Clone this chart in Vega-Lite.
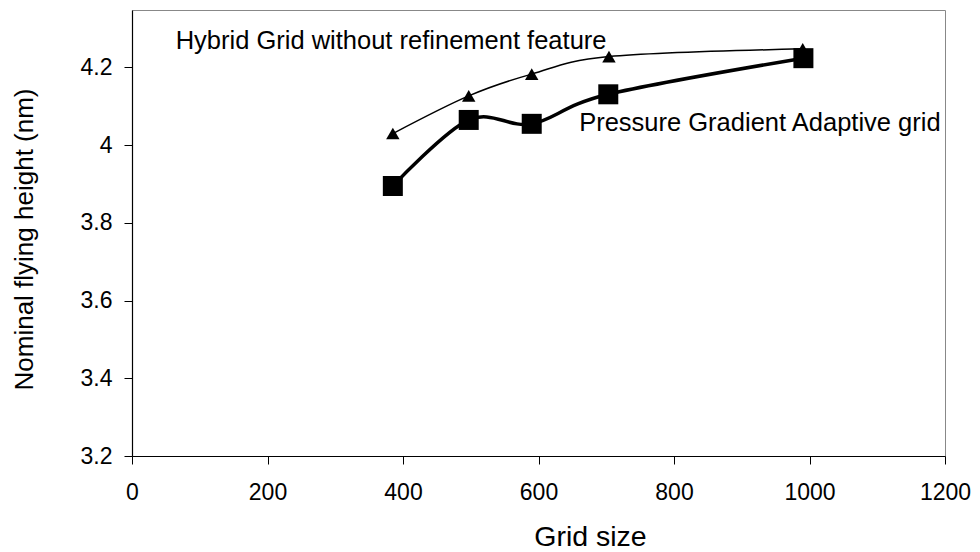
{
  "$schema": "https://vega.github.io/schema/vega-lite/v6.json",
  "width": 813,
  "height": 446,
  "autosize": {"type": "none"},
  "padding": {"left": 132, "top": 10, "right": 35, "bottom": 96},
  "background": "white",
  "config": {
    "view": {"stroke": "#888888", "strokeWidth": 1},
    "font": "Liberation Sans",
    "axis": {
      "grid": false,
      "domainColor": "#000000",
      "domainWidth": 1.2,
      "tickColor": "#000000",
      "tickSize": 8,
      "labelColor": "#000000",
      "titleColor": "#000000",
      "labelFont": "Liberation Sans",
      "titleFont": "Liberation Sans",
      "labelFontSize": 23,
      "titleFontSize": 26,
      "titleFontWeight": "normal",
      "labelFlush": false,
      "labelOverlap": false
    }
  },
  "datasets": {
    "points": [
      {"series": "Hybrid", "x": 385, "y": 4.03},
      {"series": "Hybrid", "x": 497, "y": 4.127},
      {"series": "Hybrid", "x": 590, "y": 4.183},
      {"series": "Hybrid", "x": 704, "y": 4.228},
      {"series": "Hybrid", "x": 990, "y": 4.248},
      {"series": "Pressure", "x": 385, "y": 3.895},
      {"series": "Pressure", "x": 497, "y": 4.065},
      {"series": "Pressure", "x": 590, "y": 4.055},
      {"series": "Pressure", "x": 703, "y": 4.131},
      {"series": "Pressure", "x": 991, "y": 4.224}
    ],
    "notes": [
      {"label": "Hybrid Grid without refinement feature", "x": 64.4, "y": 4.2476},
      {"label": "Pressure Gradient Adaptive grid", "x": 660, "y": 4.0373}
    ]
  },
  "encoding": {
    "x": {
      "field": "x",
      "type": "quantitative",
      "scale": {"domain": [0, 1200], "nice": false, "zero": false},
      "axis": {
        "values": [0, 200, 400, 600, 800, 1000, 1200],
        "format": "d",
        "title": "Grid size",
        "titleFontSize": 28.5,
        "labelPadding": 17,
        "titleX": 458,
        "titleY": 89,
        "titleAlign": "center",
        "titleBaseline": "alphabetic"
      }
    },
    "y": {
      "field": "y",
      "type": "quantitative",
      "scale": {"domain": [3.2, 4.348], "nice": false, "zero": false},
      "axis": {
        "values": [3.2, 3.4, 3.6, 3.8, 4, 4.2],
        "format": "~g",
        "title": "Nominal flying height (nm)",
        "labelPadding": 12,
        "titleX": -100,
        "titleY": 229,
        "titleAngle": -90,
        "titleAlign": "center",
        "titleBaseline": "alphabetic"
      }
    }
  },
  "layer": [
    {
      "data": {"name": "points"},
      "transform": [{"filter": "datum.series === 'Hybrid'"}],
      "mark": {"type": "line", "interpolate": "cardinal", "color": "#000000", "strokeWidth": 1.5}
    },
    {
      "data": {"name": "points"},
      "transform": [{"filter": "datum.series === 'Hybrid'"}],
      "mark": {"type": "point", "shape": "triangle-up", "size": 180, "filled": true, "color": "#000000", "opacity": 1}
    },
    {
      "data": {"name": "points"},
      "transform": [{"filter": "datum.series === 'Pressure'"}],
      "mark": {"type": "line", "interpolate": "cardinal", "color": "#000000", "strokeWidth": 3.5}
    },
    {
      "data": {"name": "points"},
      "transform": [{"filter": "datum.series === 'Pressure'"}],
      "mark": {"type": "point", "shape": "square", "size": 400, "filled": true, "color": "#000000", "opacity": 1}
    },
    {
      "data": {"name": "notes"},
      "mark": {"type": "text", "align": "left", "baseline": "alphabetic", "font": "Liberation Sans", "fontSize": 25.5, "color": "#000000"},
      "encoding": {"text": {"field": "label", "type": "nominal"}}
    }
  ]
}
